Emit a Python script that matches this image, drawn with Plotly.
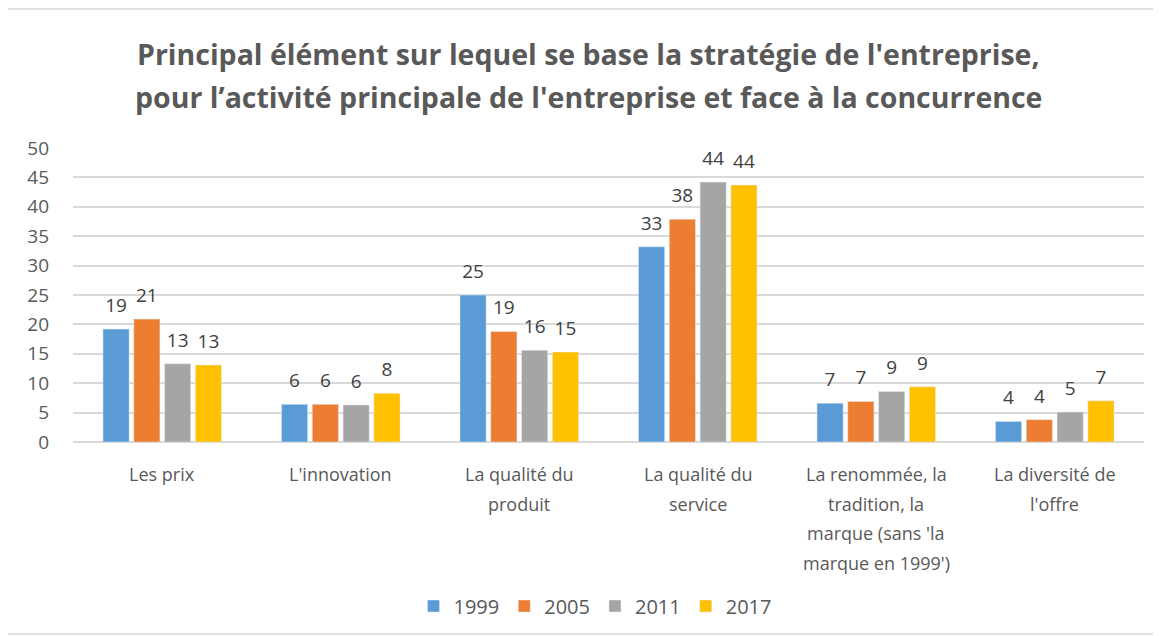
import plotly.graph_objects as go

categories = ["Les prix", "L'innovation", "La qualité du produit", "La qualité du service",
              "La renommée, la tradition, la marque (sans 'la marque en 1999')",
              "La diversité de l'offre"]
category_lines = [["Les prix"], ["L'innovation"], ["La qualité du", "produit"],
                  ["La qualité du", "service"],
                  ["La renommée, la", "tradition, la", "marque (sans 'la", "marque en 1999')"],
                  ["La diversité de", "l'offre"]]
years = ["1999", "2005", "2011", "2017"]
v1999 = [19.2, 6.4, 25.0, 33.2, 6.6, 3.5]
v2005 = [20.9, 6.4, 18.8, 37.9, 6.9, 3.8]
v2011 = [13.3, 6.3, 15.6, 44.2, 8.6, 5.1]
v2017 = [13.1, 8.3, 15.3, 43.7, 9.4, 7.0]
colors = ["#5B9BD5", "#ED7D31", "#A5A5A5", "#FFC000"]
title_lines = ["Principal élément sur lequel se base la stratégie de l'entreprise,",
               "pour l’activité principale de l'entreprise et face à la concurrence"]

OFF = 8  # page body margin
W, H = 1161 - OFF, 636 - OFF
PL, PR, PT, PB = 73 - OFF, 1144 - OFF, 148 - OFF, 442 - OFF
PW, PH = PR - PL, PB - PT


def py_to_paper(py):  # py in screenshot pixels
    return (PB - (py - OFF)) / PH


def px_to_paper(px):
    return ((px - OFF) - PL) / PW


series = [v1999, v2005, v2011, v2017]
fig = go.Figure()
for name, vals, col in zip(years, series, colors):
    fig.add_trace(go.Bar(
        x=categories, y=vals, name=name, marker_color=col,
        offsetgroup=name, hoverinfo="skip",
    ))
for name, vals in zip(years, series):
    fig.add_trace(go.Scatter(
        x=categories, y=vals, mode="markers+text", offsetgroup=name,
        texttemplate="%{y:.0f}", textposition="top center",
        textfont=dict(size=19, color="#404040", family="Open Sans"),
        marker=dict(size=18, opacity=0), showlegend=False, hoverinfo="skip",
        cliponaxis=False,
    ))

fig.update_layout(
    width=W, height=H,
    paper_bgcolor="white", plot_bgcolor="white",
    margin=dict(l=PL, r=W - PR, t=PT, b=H - PB, autoexpand=False),
    barmode="group", bargap=0.31, bargroupgap=0.15,
    scattermode="group", scattergap=0.31,
    font=dict(family="Open Sans", color="#595959", size=18),
    legend=dict(orientation="h", x=px_to_paper(595), xanchor="center", y=py_to_paper(606),
                yanchor="middle", font=dict(size=20, color="#595959"),
                traceorder="normal", itemwidth=30),
    showlegend=True,
)
for i, line in enumerate(title_lines):
    fig.add_annotation(text=line, xref="paper", yref="paper", x=px_to_paper(588),
                       xanchor="center", y=py_to_paper(54 + 43 * i), yanchor="middle",
                       showarrow=False,
                       font=dict(family="Open Sans", size=28.5, color="#595959", weight="bold"))
for cat, lines in zip(categories, category_lines):
    for j, line in enumerate(lines):
        fig.add_annotation(text=line, xref="x", yref="y", x=cat, y=0, yanchor="middle",
                           yshift=-(32 + 29.7 * j), showarrow=False,
                           font=dict(size=18, color="#595959"))

fig.update_yaxes(range=[0, 50], dtick=5, showgrid=True, gridcolor="#D9D9D9", gridwidth=1.5,
                 zeroline=True, zerolinecolor="#D9D9D9", zerolinewidth=1.5, automargin=False,
                 tickfont=dict(size=19, color="#595959"), ticklabelstandoff=23, showline=False)
fig.update_xaxes(showticklabels=False, showline=False, ticks="", automargin=False)

fig.add_shape(type="rect", xref="paper", yref="paper",
              x0=px_to_paper(4), x1=px_to_paper(1158), y0=py_to_paper(634), y1=py_to_paper(9),
              line=dict(color="#D9D9D9", width=1.5), layer="below")

fig.write_html("out.html")
